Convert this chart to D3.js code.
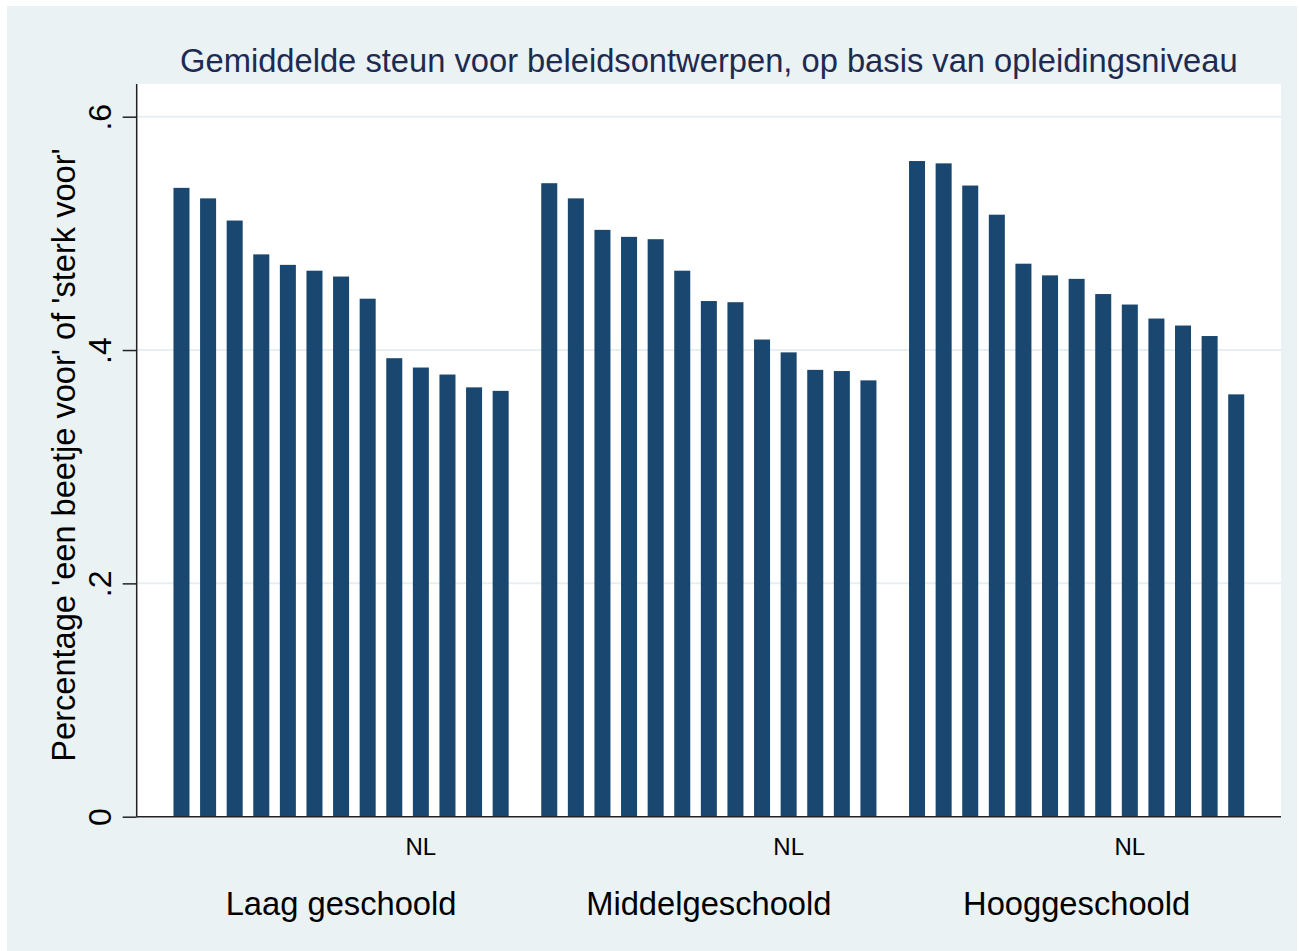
<!DOCTYPE html>
<head>
  <meta charset="utf-8">
  <script src="https://d3js.org/d3.v7.min.js"></script>
  <style>
    body { margin:0; background:white; }
    svg { display:block; }
    text { font-family: Arial, "Liberation Sans", sans-serif; }
  </style>
</head>
<body>
<script>
// education groups, in plot order
var groups = ["Laag geschoold", "Middelgeschoold", "Hooggeschoold"];

// mean support per country, sorted high to low within each group
var laag   = [0.539, 0.530, 0.511, 0.482, 0.473, 0.468, 0.463, 0.444, 0.393, 0.385, 0.379, 0.368, 0.365];
var middel = [0.543, 0.530, 0.503, 0.497, 0.495, 0.468, 0.442, 0.441, 0.409, 0.398, 0.383, 0.382, 0.374];
var hoog   = [0.562, 0.560, 0.541, 0.516, 0.474, 0.464, 0.461, 0.448, 0.439, 0.427, 0.421, 0.412, 0.362];

// bar labels: only the Netherlands is named
var laagLabels   = ["", "", "", "", "", "", "", "", "", "NL", "", "", ""];
var middelLabels = ["", "", "", "", "", "", "", "", "", "NL", "", "", ""];
var hoogLabels   = ["", "", "", "", "", "", "", "", "NL", "", "", "", ""];

var yTicks = [0, 0.2, 0.4, 0.6];
var yTickLabels = ["0", ".2", ".4", ".6"];

var title = "Gemiddelde steun voor beleidsontwerpen, op basis van opleidingsniveau";
var yTitle = "Percentage 'een beetje voor' of 'sterk voor'";

var values = [laag, middel, hoog];
var labels = [laagLabels, middelLabels, hoogLabels];

var width = 1299, height = 951;
var plot = {left: 136.7, right: 1281, top: 84, bottom: 816.7};

var svg = d3.select("body").append("svg")
  .attr("width", width)
  .attr("height", height);

// outer graph region
svg.append("rect")
  .attr("x", 7).attr("y", 6)
  .attr("width", width - 9).attr("height", height - 6)
  .attr("fill", "#eaf2f3");

// plot region
svg.append("rect")
  .attr("x", plot.left).attr("y", plot.top)
  .attr("width", plot.right - plot.left).attr("height", plot.bottom - plot.top)
  .attr("fill", "white");

var y = d3.scaleLinear()
  .domain([0, 0.6])
  .range([plot.bottom, plot.bottom - 700]);

var x0 = d3.scaleBand()
  .domain(groups)
  .range([plot.left, plot.right])
  .paddingInner(0.0886)
  .paddingOuter(0.1);

var x1 = d3.scaleBand()
  .domain(d3.range(13))
  .range([0, x0.bandwidth()])
  .paddingInner(0.398)
  .paddingOuter(0);

// gridlines
svg.selectAll("line.grid")
  .data(yTicks.filter(function(d) { return d > 0; }))
  .enter().append("line")
  .attr("class", "grid")
  .attr("x1", plot.left).attr("x2", plot.right)
  .attr("y1", function(d) { return y(d); })
  .attr("y2", function(d) { return y(d); })
  .attr("stroke", "#e6eff1")
  .attr("stroke-width", 2);

// bars
groups.forEach(function(g, gi) {
  var gEl = svg.append("g")
    .attr("transform", "translate(" + x0(g) + ",0)");

  gEl.selectAll("rect")
    .data(values[gi])
    .enter().append("rect")
    .attr("x", function(d, i) { return x1(i); })
    .attr("y", function(d) { return y(d); })
    .attr("width", x1.bandwidth())
    .attr("height", function(d) { return y(0) - y(d); })
    .attr("fill", "#1a476f");

  gEl.selectAll("text.bar-label")
    .data(labels[gi])
    .enter().append("text")
    .attr("class", "bar-label")
    .attr("x", function(d, i) { return x1(i) + x1.bandwidth() / 2; })
    .attr("y", 855)
    .attr("text-anchor", "middle")
    .attr("font-size", 24)
    .attr("fill", "black")
    .text(function(d) { return d; });

  svg.append("text")
    .attr("x", x0(g) + x0.bandwidth() / 2)
    .attr("y", 915)
    .attr("text-anchor", "middle")
    .attr("font-size", 32.7)
    .attr("fill", "black")
    .text(g);
});

// y axis
var yAxis = d3.axisLeft(y)
  .tickValues(yTicks)
  .tickFormat(function(d, i) { return yTickLabels[i]; })
  .tickSize(14)
  .tickSizeOuter(0);

var ax = svg.append("g")
  .attr("transform", "translate(" + plot.left + ",0)")
  .call(yAxis);

ax.select(".domain").remove();
ax.selectAll(".tick line").attr("stroke", "#222").attr("stroke-width", 1.5);
ax.selectAll(".tick text")
  .attr("font-size", 32)
  .attr("fill", "black")
  .attr("x", 0).attr("y", 0).attr("dy", 0)
  .attr("text-anchor", "middle")
  .attr("transform", "translate(-26,0) rotate(-90)");

svg.append("line")
  .attr("x1", plot.left).attr("x2", plot.left)
  .attr("y1", plot.top).attr("y2", plot.bottom)
  .attr("stroke", "#222").attr("stroke-width", 1.5);

// x axis line
svg.append("line")
  .attr("x1", plot.left).attr("x2", plot.right)
  .attr("y1", plot.bottom).attr("y2", plot.bottom)
  .attr("stroke", "#222").attr("stroke-width", 1.5);

// y axis title
svg.append("text")
  .attr("transform", "translate(75," + 455 + ") rotate(-90)")
  .attr("text-anchor", "middle")
  .attr("font-size", 32.6)
  .attr("fill", "black")
  .text(yTitle);

// title
svg.append("text")
  .attr("x", (plot.left + plot.right) / 2)
  .attr("y", 72)
  .attr("text-anchor", "middle")
  .attr("font-size", 32.7)
  .attr("fill", "#1e2a4f")
  .text(title);
</script>
</body>
